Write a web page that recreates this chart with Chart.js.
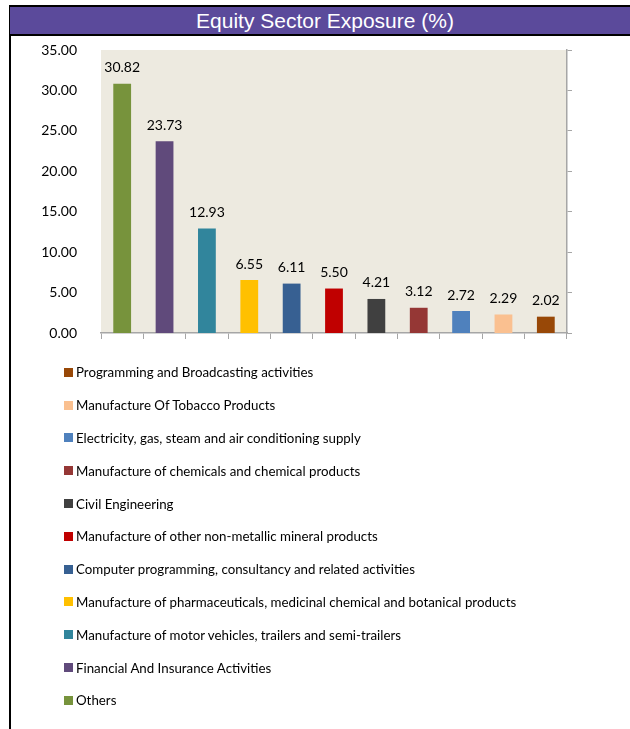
<!DOCTYPE html>
<html lang="en">
<head>
  <meta charset="UTF-8" />
  <title>Equity Sector Exposure (%)</title>
  <script src="https://cdn.jsdelivr.net/npm/chart.js"></script>
  <style>
    body { margin: 0; background: #fff; width: 630px; height: 729px; position: relative; overflow: hidden; font-family: Lato, "Noto Sans", sans-serif; }
    .frame { position: absolute; left: 9px; top: 5px; width: 2px; height: 724px; background: #000; }
    .title {
      position: absolute; left: 10px; top: 5px; width: 620px; height: 27px;
      border-top: 2px solid #000; border-bottom: 2px solid #000;
      background: #5b4a9b; color: #fff;
      font-family: "Liberation Sans", Arial, sans-serif; font-size: 21px;
      line-height: 27px; text-align: center; text-indent: 10px;
    }
    .chart-box { position: absolute; left: 0; top: 0; width: 630px; height: 360px; }
    #legend { position: absolute; left: 64px; top: 356px; }
    .item { height: 32.8px; display: flex; align-items: center; font-size: 13.3px; color: #000; }
    .item i { display: inline-block; width: 9px; height: 9px; margin-right: 3px; }
  </style>
</head>
<body>
  <div class="chart-box"><canvas id="chart" width="630" height="360"></canvas></div>
  <div class="frame"></div>
  <div class="title">Equity Sector Exposure (%)</div>
  <div id="legend"></div>

  <script>
    const sectors = [
      "Others",
      "Financial And Insurance Activities",
      "Manufacture of motor vehicles, trailers and semi-trailers",
      "Manufacture of pharmaceuticals, medicinal chemical and botanical products",
      "Computer programming, consultancy and related activities",
      "Manufacture of other non-metallic mineral products",
      "Civil Engineering",
      "Manufacture of chemicals and chemical products",
      "Electricity, gas, steam and air conditioning supply",
      "Manufacture Of Tobacco Products",
      "Programming and Broadcasting activities"
    ];
    const exposure = [30.82, 23.73, 12.93, 6.55, 6.11, 5.50, 4.21, 3.12, 2.72, 2.29, 2.02];
    const colors = [
      "#77933c", "#604a7b", "#31859c", "#ffc000", "#376092", "#c00000",
      "#404040", "#953735", "#4f81bd", "#fac090", "#984807"
    ];
    const yTicks = [0, 5, 10, 15, 20, 25, 30, 35];

    const axisGray = "#a6a6a6";
    const font = { family: "Lato, 'Noto Sans', sans-serif", size: 14 };

    // beige plot area
    const plotBg = {
      id: "plotBg",
      beforeDraw(chart) {
        const { ctx, chartArea: a } = chart;
        ctx.save();
        ctx.fillStyle = "#edeae0";
        ctx.fillRect(a.left, a.top, a.right - a.left, a.bottom - a.top);
        ctx.restore();
      }
    };

    // value labels above bars
    const valueLabels = {
      id: "valueLabels",
      afterDatasetsDraw(chart) {
        const { ctx } = chart;
        const meta = chart.getDatasetMeta(0);
        ctx.save();
        ctx.font = `${font.size}px ${font.family}`;
        ctx.fillStyle = "#000";
        ctx.textAlign = "center";
        ctx.textBaseline = "middle";
        meta.data.forEach((bar, i) => {
          ctx.fillText(exposure[i].toFixed(2), bar.x, bar.y - 16);
        });
        ctx.restore();
      }
    };

    new Chart(document.getElementById("chart"), {
      type: "bar",
      data: {
        labels: sectors,
        datasets: [{
          data: exposure,
          backgroundColor: colors,
          categoryPercentage: 1,
          barPercentage: 0.42
        }]
      },
      options: {
        responsive: false,
        animation: false,
        layout: { padding: { top: 50, left: 0, right: 0, bottom: 0 } },
        plugins: { legend: { display: false }, tooltip: { enabled: false } },
        scales: {
          x: {
            grid: { offset: true, drawOnChartArea: false, drawTicks: true, tickLength: 6, color: axisGray },
            border: { color: axisGray, width: 1.5 },
            ticks: { display: false },
            afterFit: s => { s.height = 27; }
          },
          y: {
            position: "left",
            min: 0, max: 35,
            afterBuildTicks: s => { s.ticks = yTicks.map(v => ({ value: v })); },
            grid: { display: false },
            border: { display: false },
            ticks: { color: "#000", font, padding: 16, callback: v => Number(v).toFixed(2) },
            afterFit: s => { s.width = 101; }
          },
          y2: {
            position: "right",
            min: 0, max: 35,
            afterBuildTicks: s => { s.ticks = yTicks.map(v => ({ value: v })); },
            grid: { drawOnChartArea: false, drawTicks: true, tickLength: 5, color: axisGray },
            border: { color: axisGray, width: 1.5 },
            ticks: { display: false },
            afterFit: s => { s.width = 63; }
          }
        }
      },
      plugins: [plotBg, valueLabels]
    });

    // legend, listed in reverse order like the original
    const legend = document.getElementById("legend");
    legend.innerHTML = sectors.map((name, i) => ({ name, color: colors[i] })).reverse()
      .map(d => `<div class="item"><i style="background:${d.color}"></i>${d.name}</div>`).join("");
  </script>
</body>
</html>
